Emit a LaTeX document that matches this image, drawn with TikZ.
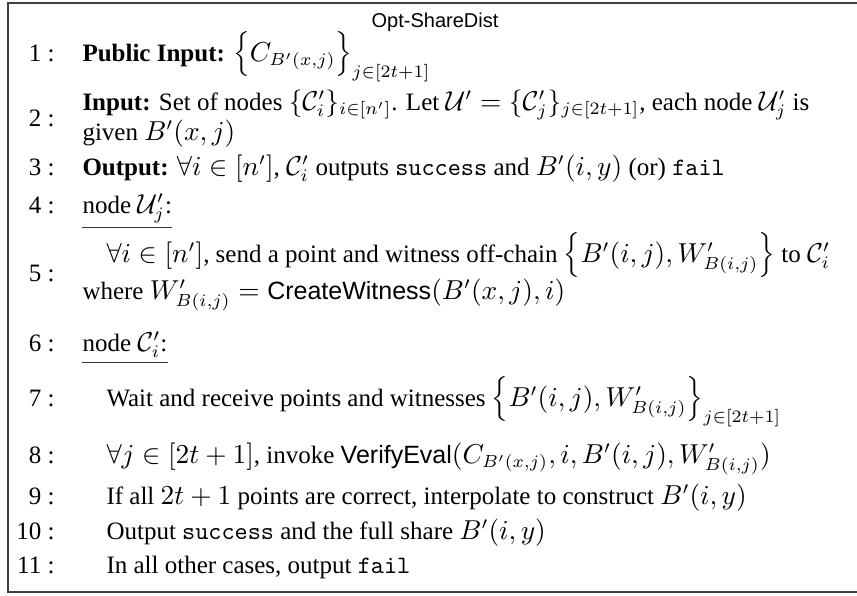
\documentclass[tikz,border=0pt]{standalone}
\usepackage[no-math]{fontspec}
\setmainfont{Liberation Serif}
\setsansfont{Liberation Sans}
% slightly larger math than text
\DeclareMathSizes{10}{10.5}{7.35}{5.25}
\begin{document}
\begin{tikzpicture}[x=0.4pt,y=-0.4pt,
  every node/.style={inner sep=0pt,font=\fontsize{10}{12}\selectfont},
  num/.style={anchor=base east},
  txt/.style={anchor=base west},
  title/.style={anchor=base,font=\fontsize{8}{9.5}\selectfont\sffamily},
  frame/.style={draw=black!75,line width=0.6pt},
  uline/.style={draw=black!80,line width=0.55pt}]
\useasboundingbox (0,0) rectangle (857,595);
\clip (0,0) rectangle (857,595);
\draw[frame] (8,3) rectangle (900,592);

\node[title] (t) at (435,27) {Opt-ShareDist};

% step numbers
\node[num] (n1)  at (55,61)  {1 :};
\node[num] (n2)  at (55,126) {2 :};
\node[num] (n3)  at (55,175) {3 :};
\node[num] (n4)  at (55,213) {4 :};
\node[num] (n5)  at (55,281) {5 :};
\node[num] (n6)  at (55,351) {6 :};
\node[num] (n7)  at (55,406) {7 :};
\node[num] (n8)  at (55,463) {8 :};
\node[num] (n9)  at (55,504) {9 :};
\node[num] (n10) at (55,539) {10 :};
\node[num] (n11) at (55,573) {11 :};

% step texts
\node[txt] (l1) at (82,61) {\textbf{Public Input:} $\Big\{ C_{B'(x,j)} \Big\}_{j\in[2t+1]}$};
\node[txt] (l2a) at (82,110) {\textbf{Input:} Set of nodes $\{\mathcal{C}'_i\}_{i\in[n']}$. Let $\mathcal{U}'=\{\mathcal{C}'_j\}_{j\in[2t+1]}$, each node $\mathcal{U}'_j$ is};
\node[txt] (l2b) at (82,140) {given $B'(x,j)$};
\node[txt] (l3) at (82,175) {\textbf{Output:} $\forall i\in[n']$, $\mathcal{C}'_i$ outputs \texttt{success} and $B'(i,y)$ (or) \texttt{fail}};
\node[txt] (l4) at (82,213) {node $\mathcal{U}'_j$:};
\node[txt] (l5a) at (106,262) {$\forall i\in[n']$, send a point and witness off-chain $\Big\{B'(i,j),W'_{B(i,j)}\Big\}$ to $\mathcal{C}'_i$};
\node[txt] (l5b) at (82,299) {where $W'_{B(i,j)}=\textsf{CreateWitness}(B'(x,j),i)$};
\node[txt] (l6) at (82,351) {node $\mathcal{C}'_i$:};
\node[txt] (l7) at (106,406) {Wait and receive points and witnesses $\Big\{B'(i,j),W'_{B(i,j)}\Big\}_{j\in[2t+1]}$};
\node[txt] (l8) at (106,463) {$\forall j\in[2t+1]$, invoke $\textsf{VerifyEval}(C_{B'(x,j)},i,B'(i,j),W'_{B(i,j)})$};
\node[txt] (l9) at (106,504) {If all $2t+1$ points are correct, interpolate to construct $B'(i,y)$};
\node[txt] (l10) at (106,539) {Output \texttt{success} and the full share $B'(i,y)$};
\node[txt] (l11) at (106,573) {In all other cases, output \texttt{fail}};

% underlines of the two node headings
\draw[uline] ([yshift=-1.6pt]l4.south west) -- ([yshift=-1.6pt]l4.south east);
\draw[uline] ([yshift=-1.6pt]l6.south west) -- ([yshift=-1.6pt]l6.south east);
\end{tikzpicture}
\end{document}
